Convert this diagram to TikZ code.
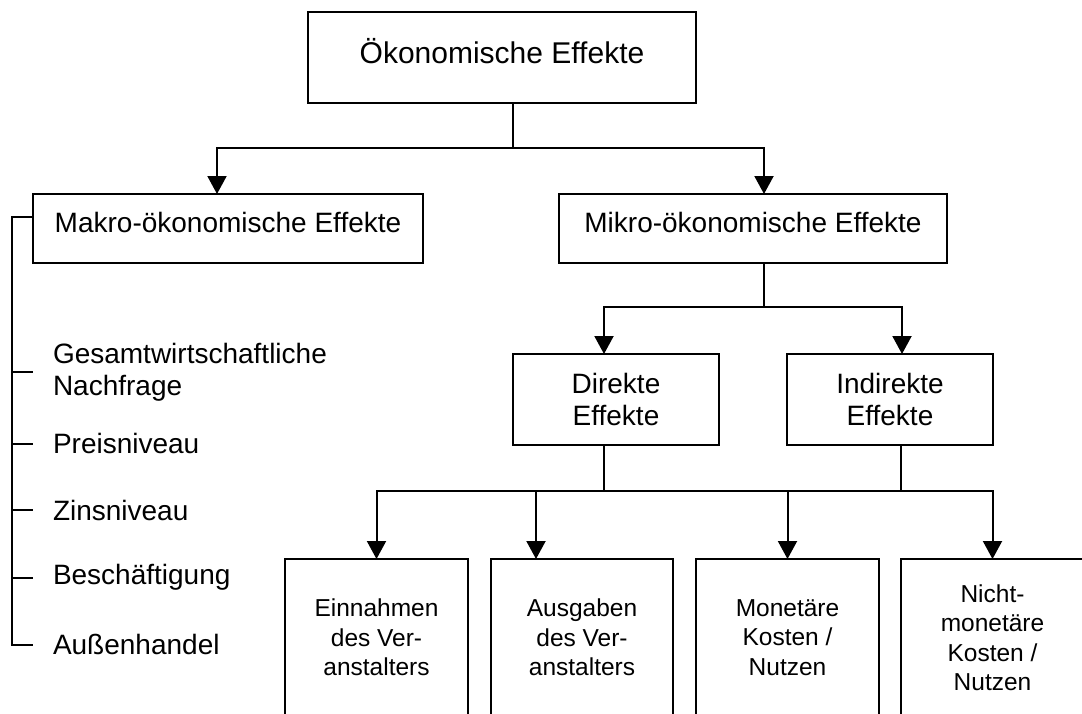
\documentclass[tikz,border=0pt]{standalone}
\usepackage{fontspec}
\setmainfont{Liberation Sans}
\usetikzlibrary{arrows.meta}

\begin{document}
\begin{tikzpicture}[x=1pt,y=1pt,line width=2pt]
	\tikzstyle{every node}+=[inner sep=0pt,outer sep=0pt]
	\tikzstyle{box}=[draw=black,rectangle]
	\tikzstyle{arr}=[-{Triangle[width=19pt,length=18pt]}]
	\tikzstyle{big}=[font=\fontsize{28}{32}\selectfont]
	\tikzstyle{small}=[font=\fontsize{24.5}{29.5}\selectfont]
	\useasboundingbox (0,0) rectangle (1082,-713);
	\clip (0,0) rectangle (1082,-713);
	\node [box,minimum width=388pt,text height=51pt,text depth=40pt,font=\fontsize{30}{34}\selectfont] (oek) at (502,-57.5) {Ökonomische Effekte};
	\node [box,big,minimum width=390pt,text height=38pt,text depth=31pt] (makro) at (228,-228.5) {Makro-ökonomische Effekte};
	\node [box,big,minimum width=388pt,text height=38pt,text depth=31pt] (mikro) at (753,-228.5) {Mikro-ökonomische Effekte};
	\node [box,big,align=center,minimum width=206pt,minimum height=91pt] (direkt) at (616,-399.5) {Direkte\\Effekte};
	\node [box,big,align=center,minimum width=206pt,minimum height=91pt] (indirekt) at (890,-399.5) {Indirekte\\Effekte};
	\node [box,small,align=center,minimum width=183pt,minimum height=157pt] (ein) at (376.5,-637.5) {Einnahmen\\des Ver-\\anstalters};
	\node [box,small,align=center,minimum width=182pt,minimum height=157pt] (aus) at (582,-637.5) {Ausgaben\\des Ver-\\anstalters};
	\node [box,small,align=center,minimum width=183pt,minimum height=157pt] (mon) at (787.5,-637.5) {Monetäre\\Kosten /\\Nutzen};
	\node [box,small,align=center,minimum width=183pt,minimum height=157pt] (nicht) at (992.5,-637.5) {Nicht-\\monetäre\\Kosten /\\Nutzen};
	\node [big,anchor=west,align=left] (ges) at (53,-372) {Gesamtwirtschaftliche\\Nachfrage};
	\node [big,anchor=west] (preis) at (53,-443.5) {Preisniveau};
	\node [big,anchor=west] (zins) at (53,-510) {Zinsniveau};
	\node [big,anchor=west] (besch) at (53,-577.5) {Beschäftigung};
	\node [big,anchor=west] (aussen) at (53,-644.5) {Außenhandel};
	\coordinate (bus1) at (513,-148);
	\draw ([xshift=11pt]oek.south) -- (bus1);
	\draw [arr] (bus1) -| ([xshift=-11pt]makro.north);
	\draw [arr] (bus1) -| ([xshift=11pt]mikro.north);
	\coordinate (bus2) at (764,-307);
	\draw ([xshift=11pt]mikro.south) -- (bus2);
	\draw [arr] (bus2) -| ([xshift=-12pt]direkt.north);
	\draw [arr] (bus2) -| ([xshift=12pt]indirekt.north);
	\coordinate (bus3) at (604,-491);
	\draw ([xshift=-12pt]direkt.south) -- (bus3);
	\draw ([xshift=11pt]indirekt.south) |- (bus3);
	\draw [arr] (bus3) -| (ein.north);
	\draw [arr] (bus3) -| ([xshift=-46pt]aus.north);
	\draw [arr] (bus3) -| (mon.north);
	\draw [arr] (bus3) -| (nicht.north);
	\coordinate (rail) at (12,-217);
	\draw ([yshift=11.5pt]makro.west) -- (rail) |- ([xshift=-20pt]aussen.west);
	\foreach \n in {ges,preis,zins,besch}
		\draw (rail |- \n.west) -- ([xshift=-20pt]\n.west);
\end{tikzpicture}
\end{document}
